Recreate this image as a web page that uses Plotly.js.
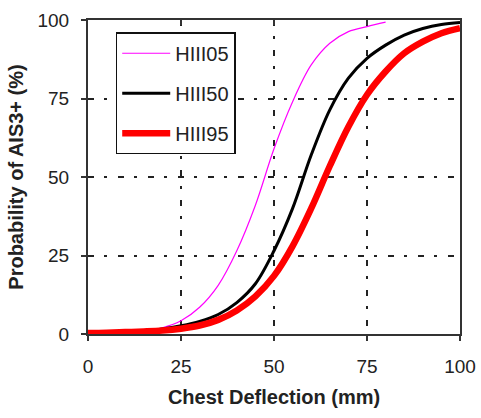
<!DOCTYPE html>
<html>
<head>
<meta charset="utf-8">
<script src="https://cdn.plot.ly/plotly-3.0.1.min.js"></script>
<style>html,body{margin:0;padding:0;background:#fff;}#chart{width:481px;height:418px;}</style>
</head>
<body>
<div id="chart"></div>
<script>
// Chest deflection (mm)
var deflection05 = [0, 5, 10, 15, 20, 25, 30, 35, 40, 45, 50, 55, 60, 65, 70, 75, 80];
var deflection = [0, 5, 10, 15, 20, 25, 30, 35, 40, 45, 50, 55, 60, 65, 70, 75, 80, 85, 90, 95, 100];
// Probability of AIS3+ (%)
var hiii05 = [0.2, 0.4, 0.7, 1.1, 2, 4.2, 8.5, 15.5, 26.5, 41, 59, 74, 85.7, 92.6, 96.3, 97.9, 99.3];
var hiii50 = [0.2, 0.4, 0.6, 1.0, 1.6, 2.6, 4, 6.2, 10, 16, 26.5, 40, 57, 71.4, 81.5, 87.8, 92, 95.2, 97.3, 98.6, 99.2];
var hiii95 = [0.3, 0.4, 0.6, 0.8, 1.1, 1.7, 2.7, 4.5, 7.5, 12, 18.5, 28, 40, 53.5, 66, 76.2, 83.6, 89.4, 93.1, 95.8, 97.4];
var seriesNames = ["HIII05", "HIII50", "HIII95"];
var tickVals = [0, 25, 50, 75, 100];
var tickText = ["0", "25", "50", "75", "100"];

var FONT = "Liberation Sans, Arial, sans-serif";
var traces = [
  {x: deflection05, y: hiii05, name: seriesNames[0], mode: "lines", legendgroup: "a",
   line: {color: "#ff00ff", width: 1.2, shape: "spline", smoothing: 1}},
  {x: deflection, y: hiii50, name: seriesNames[1], mode: "lines", legendgroup: "b",
   line: {color: "#000000", width: 3, shape: "spline", smoothing: 1}},
  {x: deflection, y: hiii95, name: seriesNames[2], mode: "lines", legendgroup: "c",
   line: {color: "#ff0000", width: 6.5, shape: "spline", smoothing: 1}},
  {x: [], y: [], xaxis: "x2", showlegend: false, hoverinfo: "skip", mode: "lines"}
];

var gridDash = "6px,10px,3px,11px";
var layout = {
  width: 481, height: 418,
  margin: {l: 88, r: 21, t: 20, b: 84},
  paper_bgcolor: "#ffffff", plot_bgcolor: "#ffffff",
  font: {family: FONT, color: "#222", size: 19},
  showlegend: true,
  legend: {
    x: 0.0745, y: 0.961, xanchor: "left", yanchor: "top",
    bordercolor: "#111", borderwidth: 1.5, bgcolor: "#ffffff",
    font: {family: FONT, size: 20, color: "#222"},
    tracegroupgap: 11, itemwidth: 48
  },
  xaxis: {
    range: [0, 100], tickvals: tickVals, ticktext: tickText,
    showline: true, linecolor: "#333", linewidth: 2, mirror: true,
    ticks: "outside", ticklen: 5, tickwidth: 2, tickcolor: "#333",
    showgrid: true, gridcolor: "#222", gridwidth: 2, griddash: gridDash,
    zeroline: false, ticklabelstandoff: 9,
    title: {text: "<b>Chest Deflection (mm)</b>", font: {family: FONT, size: 20, color: "#222"}, standoff: 14}
  },
  xaxis2: {
    range: [0, 100], tickvals: tickVals, overlaying: "x", side: "top",
    showticklabels: false, ticks: "inside", ticklen: 5, tickwidth: 2, tickcolor: "#333",
    showgrid: false, zeroline: false, showline: false
  },
  yaxis: {
    range: [0, 100], tickvals: tickVals, ticktext: tickText,
    showline: true, linecolor: "#333", linewidth: 2, mirror: true,
    ticks: "outside", ticklen: 5, tickwidth: 2, tickcolor: "#333",
    showgrid: true, gridcolor: "#222", gridwidth: 2, griddash: gridDash,
    zeroline: false, ticklabelstandoff: 8,
    title: {text: "<b>Probability of AIS3+ (%)</b>", font: {family: FONT, size: 20, color: "#222"}, standoff: 8}
  }
};

Plotly.newPlot("chart", traces, layout, {staticPlot: true, displayModeBar: false});
</script>
</body>
</html>
